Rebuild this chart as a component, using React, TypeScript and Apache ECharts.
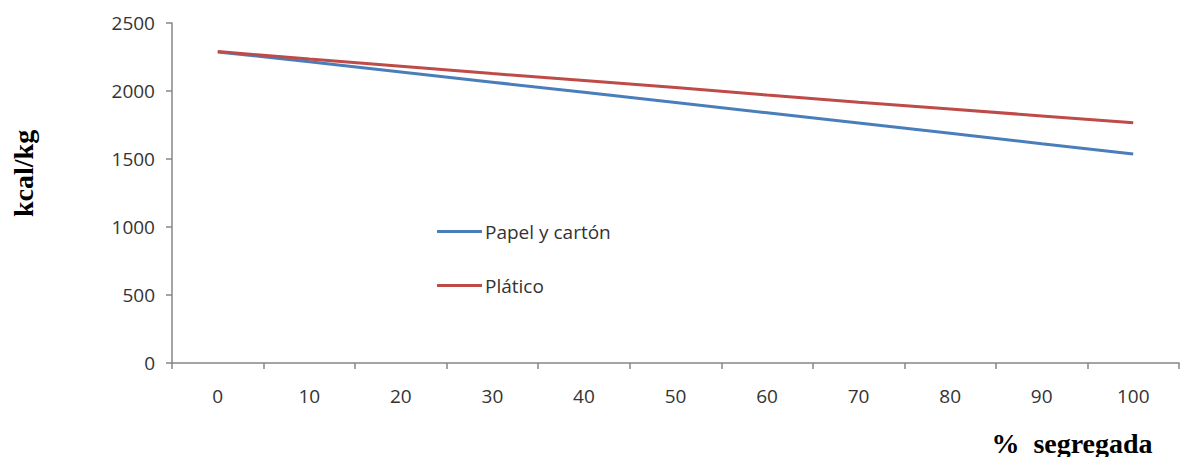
import React, { useEffect, useRef } from "react";
import * as echarts from "echarts";

const categories = ["0", "10", "20", "30", "40", "50", "60", "70", "80", "90", "100"];
const papelValues = [2287, 2215, 2140, 2065, 1990, 1915, 1840, 1765, 1690, 1612, 1537];
const plasticoValues = [2290, 2235, 2182, 2128, 2077, 2025, 1970, 1917, 1867, 1817, 1767];
const seriesNames = ["Papel y cartón", "Plático"];

export default function App() {
  const ref = useRef<HTMLDivElement>(null);
  useEffect(() => {
    if (!ref.current) return;
    const chart = echarts.init(ref.current, undefined, { renderer: "svg" });
    const axisColor = "#868686";
    const labelStyle = { color: "#333", fontFamily: "Open Sans", fontSize: 19 };
    chart.setOption({
      animation: false,
      grid: { left: 172, right: 13, top: 23, bottom: 94 },
      legend: {
        orient: "vertical",
        left: 437,
        top: 222,
        padding: 0,
        itemGap: 35,
        itemWidth: 45,
        itemHeight: 3,
        icon: "rect",
        textStyle: { ...labelStyle, padding: [0, 0, 0, -2] },
        data: seriesNames,
      },
      xAxis: {
        type: "category",
        data: categories,
        boundaryGap: true,
        axisLine: { lineStyle: { color: axisColor, width: 1.5 } },
        axisTick: { show: true, length: 6, lineStyle: { color: axisColor, width: 1.5 } },
        axisLabel: { ...labelStyle, margin: 23 },
        splitLine: { show: false },
      },
      yAxis: {
        type: "value",
        min: 0,
        max: 2500,
        interval: 500,
        axisLine: { show: true, lineStyle: { color: axisColor, width: 1.5 } },
        axisTick: { show: true, length: 6, lineStyle: { color: axisColor, width: 1.5 } },
        axisLabel: { ...labelStyle, margin: 17, formatter: (v: number) => String(v) },
        splitLine: { show: false },
      },
      graphic: [
        {
          type: "text",
          x: 23,
          y: 217,
          rotation: Math.PI / 2,
          style: {
            text: "kcal/kg",
            fontFamily: "Liberation Serif",
            fontWeight: "bold",
            fontSize: 28,
            fill: "#000",
            align: "left",
            verticalAlign: "middle",
          },
        },
        {
          type: "text",
          x: 1072,
          y: 443,
          style: {
            text: "%  segregada",
            fontFamily: "Liberation Serif",
            fontWeight: "bold",
            fontSize: 28,
            fill: "#000",
            align: "center",
            verticalAlign: "middle",
          },
        },
      ],
      series: [
        {
          name: seriesNames[0],
          type: "line",
          data: papelValues,
          showSymbol: false,
          symbol: "none",
          lineStyle: { color: "#4a7ebb", width: 3 },
          itemStyle: { color: "#4a7ebb" },
        },
        {
          name: seriesNames[1],
          type: "line",
          data: plasticoValues,
          showSymbol: false,
          symbol: "none",
          lineStyle: { color: "#be4b48", width: 3 },
          itemStyle: { color: "#be4b48" },
        },
      ],
    });
    return () => chart.dispose();
  }, []);
  return <div ref={ref} style={{ width: 1192, height: 457, position: "absolute", left: 0, top: 0 }} />;
}
